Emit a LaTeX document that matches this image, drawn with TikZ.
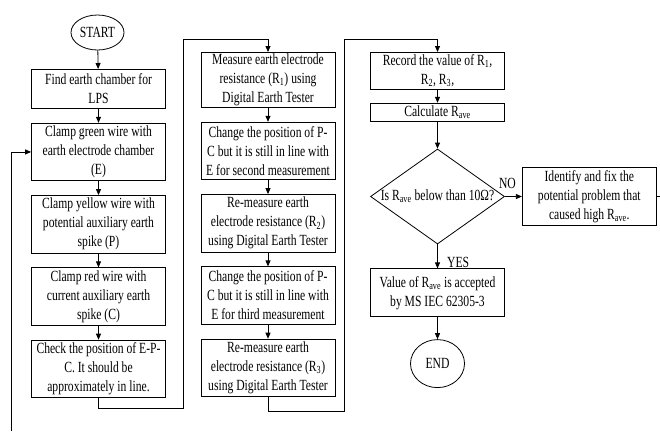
\documentclass[tikz,border=0pt]{standalone}
\usepackage{fontspec}
\setmainfont{Liberation Serif}[FakeStretch=0.75]
\usetikzlibrary{positioning, arrows.meta, shapes.geometric}

\begin{document}
\begin{tikzpicture}[x=1bp, y=-1bp, >={Triangle[length=6bp, width=5bp]},
  line width=0.8bp, node distance=14bp,
  font=\fontsize{15.5bp}{19bp}\selectfont,
  stepbox/.style={draw, minimum width=134bp, align=center, inner sep=1bp, minimum height=57.5bp},
  termnode/.style={draw, ellipse, inner sep=0pt}]
  \useasboundingbox (0,0) rectangle (660,431);

  % first column
  \node[termnode, minimum width=53bp, minimum height=35bp] (start) at (97.5,32.5) {START};
  \node[stepbox, minimum height=39bp, anchor=north] (find) at (98.5,69) {Find earth chamber for\\ LPS};
  \node[stepbox, below=of find] (clampE) {Clamp green wire with\\ earth electrode chamber\\ (E)};
  \node[stepbox, below=of clampE] (clampP) {Clamp yellow wire with\\ potential auxiliary earth\\ spike (P)};
  \node[stepbox, below=of clampP] (clampC) {Clamp red wire with\\ current auxiliary earth\\ spike (C)};
  \node[stepbox, below=of clampC] (check) {Check the position of E-P-\\ C. It should be\\ approximately in line.};

  % second column
  \node[stepbox, minimum height=55bp, anchor=north] (meas1) at (268,52) {Measure earth electrode\\ resistance (R\textsubscript{1}) using\\ Digital Earth Tester};
  \node[stepbox, below=of meas1] (move2) {Change the position of P-\\ C but it is still in line with\\ E for second measurement};
  \node[stepbox, below=of move2] (meas2) {Re-measure earth\\ electrode resistance (R\textsubscript{2})\\ using Digital Earth Tester};
  \node[stepbox, below=of meas2] (move3) {Change the position of P-\\ C but it is still in line with\\ E for third measurement};
  \node[stepbox, below=of move3] (meas3) {Re-measure earth\\ electrode resistance (R\textsubscript{3})\\ using Digital Earth Tester};

  % third column
  \node[stepbox, minimum height=37bp, anchor=north] (record) at (437.5,52) {Record the value of R\textsubscript{1},\\ R\textsubscript{2}, R\textsubscript{3},};
  \node[stepbox, minimum height=18bp, inner ysep=0pt, below=13bp of record] (calc) {Calculate R\textsubscript{ave}};
  \node[draw, diamond, minimum width=134bp, minimum height=95bp, inner sep=0pt, below=27bp of calc] (check10) {\makebox[0pt]{Is R\textsubscript{ave} below than 10Ω?}};
  \node[stepbox, minimum height=48bp, below=24bp of check10] (accept) {Value of R\textsubscript{ave} is accepted\\ by MS IEC 62305-3};
  \node[termnode, minimum width=54bp, minimum height=48bp, below=22bp of accept] (end) {END};
  \node[stepbox, right=17bp of check10] (fix) {Identify and fix the\\ potential problem that\\ caused high R\textsubscript{ave}.};

  \coordinate (loopA) at (183,39);
  \coordinate (loopB) at (344,39);
  \coordinate (fbLow) at (11,431);
  \coordinate (fbRight) at (660,0);

  \draw[->] (start) -- (find);
  \draw[->] (find) -- (clampE);
  \draw[->] (clampE) -- (clampP);
  \draw[->] (clampP) -- (clampC);
  \draw[->] (clampC) -- (check);
  \draw[->] (check.south) -- ++(0,10) -| (loopA) -| (meas1.north);

  \draw[->] (meas1) -- (move2);
  \draw[->] (move2) -- (meas2);
  \draw[->] (meas2) -- (move3);
  \draw[->] (move3) -- (meas3);
  \draw[->] (meas3.south) -- ++(0,14) -| (loopB) -| (record.north);

  \draw[->] (record) -- (calc);
  \draw[->] (calc) -- (check10);
  \draw[->] (check10) -- (accept)
    node[right=6bp, pos=0.75]{YES};
  \draw[->] (check10) -- (fix)
    node[above=4bp, pos=0.15]{NO};
  \draw[->] (accept) -- (end);

  % feedback loop, cut at the picture edges
  \draw (fix.east) -- (fix.east -| fbRight);
  \draw[->] (fbLow) |- (clampE.west);
\end{tikzpicture}
\end{document}
